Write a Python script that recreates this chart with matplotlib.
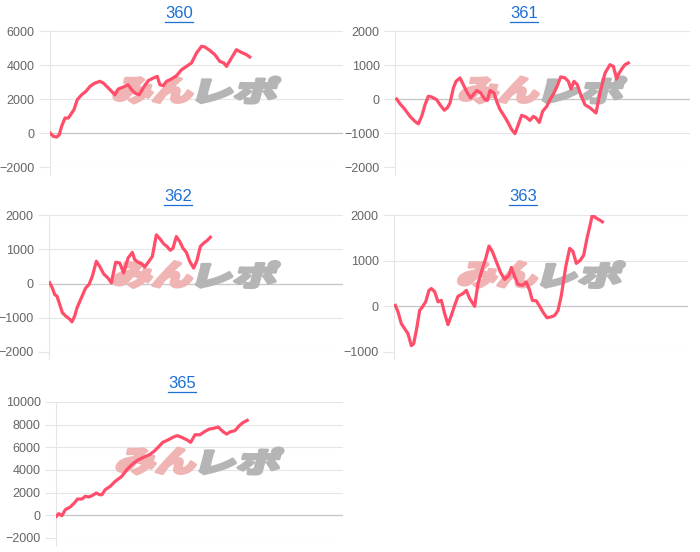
import matplotlib
matplotlib.use("Agg")
import matplotlib.pyplot as plt
from matplotlib.font_manager import FontProperties
from matplotlib.textpath import TextPath
from matplotlib.patches import PathPatch
from matplotlib.transforms import Affine2D, IdentityTransform
from matplotlib.lines import Line2D

plt.rcParams["font.family"] = ["Liberation Sans", "DejaVu Sans"]

LINE_COLOR = "#ff4d6a"
TITLE_COLOR = "#1d6fd6"
GRID_COLOR = "#e6e6e6"

# データ (ゲーム数, 差枚)
titles = ["360", "361", "362", "363", "365"]

x360 = [0, 10, 20, 28, 35, 45, 55, 62, 72, 82, 95, 108, 120, 135, 150, 160, 175, 190, 195, 205,
        220, 235, 243, 255, 268, 280, 295, 310, 322, 330, 340, 350, 365, 380, 395, 410, 425, 440,
        455, 465, 480, 495, 510, 522, 530, 545, 560, 575, 590, 600]
y360 = [0, -200, -240, -100, 400, 880, 880, 1080, 1370, 1960, 2250, 2450, 2740, 2940, 3040, 2940,
        2650, 2350, 2250, 2590, 2700, 2840, 2590, 2350, 2250, 2650, 3080, 3230, 3330, 2840, 2780,
        3040, 3180, 3370, 3720, 3920, 4120, 4700, 5100, 5060, 4860, 4610, 4210, 4120, 3920, 4410,
        4900, 4740, 4610, 4470]

x361 = [5, 15, 30, 45, 60, 70, 80, 90, 100, 110, 125, 135, 148, 157, 165, 175, 183, 195, 205, 217,
        227, 235, 245, 257, 270, 277, 285, 297, 305, 315, 327, 340, 350, 360, 370, 380, 393, 405,
        415, 423, 433, 443, 455, 465, 477, 487, 497, 510, 520, 528, 537, 547, 557, 570, 585, 603,
        615, 630, 645, 655, 665, 670, 680, 690, 700]
y361 = [0, -140, -310, -510, -660, -730, -510, -170, 80, 60, -20, -170, -330, -260, -120, 320, 520,
        620, 420, 180, 30, 130, 250, 180, -20, -40, 250, 180, -70, -310, -490, -710, -900, -1020,
        -750, -480, -530, -630, -510, -560, -690, -360, -220, -20, 180, 390, 650, 620, 520, 290,
        520, 420, 130, -170, -260, -410, 180, 760, 1010, 960, 590, 720, 880, 1010, 1060]

x362 = [2, 10, 17, 24, 32, 40, 50, 62, 69, 77, 84, 97, 110, 120, 130, 142, 152, 164, 177, 187,
        200, 212, 224, 237, 250, 257, 267, 277, 287, 300, 310, 322, 334, 344, 354, 364, 372, 382,
        392, 402, 412, 422, 434, 444, 454, 464, 474, 484]
y362 = [20, -130, -320, -370, -610, -850, -950, -1040, -1120, -950, -710, -420, -130, -30, 210,
        650, 500, 280, 160, 20, 620, 600, 310, 740, 910, 700, 620, 580, 480, 650, 790, 1420, 1290,
        1160, 1080, 970, 1030, 1370, 1230, 1030, 910, 650, 450, 680, 1080, 1180, 1250, 1350]

x363 = [4, 12, 22, 32, 42, 52, 59, 67, 77, 85, 95, 105, 112, 122, 132, 142, 152, 162, 172, 182,
        192, 207, 217, 227, 242, 252, 262, 275, 285, 295, 307, 319, 332, 345, 352, 362, 372, 385,
        397, 407, 415, 427, 437, 449, 459, 472, 482, 492, 502, 515, 527, 537, 547, 559, 569, 579,
        587, 595, 607, 617, 625]
y363 = [20, -120, -380, -490, -600, -860, -820, -530, -90, -15, 100, 350, 390, 320, 100, 130, -160,
        -400, -200, 20, 220, 280, 350, 170, 0, 500, 750, 1050, 1320, 1200, 980, 750, 590, 680, 850,
        650, 480, 460, 530, 350, 130, 120, 0, -150, -250, -230, -200, -90, 240, 860, 1270, 1200,
        940, 1010, 1120, 1490, 1740, 2000, 1930, 1890, 1850]

x365 = [1, 8, 18, 28, 43, 55, 65, 78, 88, 98, 108, 121, 131, 138, 148, 163, 178, 198, 213, 228,
        243, 263, 281, 295, 308, 321, 338, 353, 365, 378, 393, 405, 418, 433, 448, 461, 473, 488,
        501, 513, 525, 538, 551, 563, 575]
y365 = [-90, 150, -30, 500, 740, 1090, 1440, 1440, 1680, 1620, 1730, 1970, 1820, 1820, 2260, 2560,
        3000, 3440, 4030, 4470, 4820, 5120, 5350, 5650, 6030, 6440, 6670, 6910, 7030, 6880, 6670,
        6440, 7110, 7110, 7410, 7610, 7670, 7790, 7410, 7170, 7380, 7470, 7910, 8200, 8380]

xs = [x360, x361, x362, x363, x365]
ys = [y360, y361, y362, y363, y365]
xmax = [880, 885, 882, 882, 863]
ylims = [(-2000, 6000), (-2000, 2000), (-2000, 2000), (-1000, 2000), (-2000, 10000)]
ysteps = [2000, 1000, 1000, 1000, 2000]

W, H = 700, 552
# 各パネルの位置 (px): left, right, top, bottom, タイトル中心x, タイトルy
boxes = [
    (50, 343, 31, 167, 179, 13),
    (395, 690, 31, 167, 524, 13),
    (49, 343, 215, 352, 178, 197),
    (394, 688, 215, 352, 523, 197),
    (56, 343, 402, 538, 182, 383),
]

fig = plt.figure(figsize=(W / 100, H / 100), dpi=100)
fig.patch.set_facecolor("white")

wm_font = FontProperties(family="Noto Sans CJK JP", weight="black")


def add_watermark(ax):
    # みんレポ のロゴ風透かし
    bb = ax.get_window_extent()
    cx = (bb.x0 + bb.x1) / 2
    cy = (bb.y0 + bb.y1) / 2 + 9
    for text, color, dx in (("みん", "#f0b4b4", -42), ("レポ", "#b5b5b5", 42)):
        path = TextPath((0, 0), text, size=1, prop=wm_font)
        ext = path.get_extents()
        tr = (Affine2D()
              .translate(-(ext.x0 + ext.x1) / 2, -(ext.y0 + ext.y1) / 2)
              .scale(78 / ext.width, 26 / ext.height)
              .skew_deg(15, 0)
              .translate(cx + dx, cy))
        ax.add_patch(PathPatch(tr.transform_path(path), transform=IdentityTransform(),
                               facecolor=color, edgecolor=color, lw=2.2,
                               joinstyle="round", zorder=1.5))


title_texts = []
for i, (l, r, t, b, tx, ty) in enumerate(boxes):
    ax = fig.add_axes([l / W, 1 - b / H, (r - l) / W, (b - t) / H])
    lo, hi = ylims[i]
    ax.set_xlim(0, xmax[i])
    ax.set_ylim(lo, hi)
    ax.set_yticks(range(lo, hi + 1, ysteps[i]))
    ax.set_xticks([0])
    ax.set_xticklabels([])
    ax.tick_params(axis="y", length=8, width=0.8, color=GRID_COLOR, labelcolor="#666666",
                   labelsize=9, pad=3)
    ax.tick_params(axis="x", length=6, width=0.8, color=GRID_COLOR)
    ax.set_axisbelow(True)
    ax.grid(axis="y", color=GRID_COLOR, lw=0.8)
    ax.axhline(0, color="#c6c6c6", lw=0.9, zorder=0.6)
    for s in ("top", "right", "bottom"):
        ax.spines[s].set_visible(False)
    ax.spines["left"].set_color(GRID_COLOR)
    ax.spines["left"].set_linewidth(0.8)

    add_watermark(ax)
    ax.plot(xs[i], ys[i], color=LINE_COLOR, lw=2.3, solid_joinstyle="round", zorder=3)

    txt = fig.text(tx / W, 1 - ty / H, titles[i], color=TITLE_COLOR, fontsize=12,
                   ha="center", va="center")
    title_texts.append(txt)

# タイトルの下線
fig.canvas.draw()
inv = fig.transFigure.inverted()
for txt in title_texts:
    bb = txt.get_window_extent()
    (x0, y0), (x1, _) = inv.transform([(bb.x0, bb.y0 - 1), (bb.x1, bb.y0)])
    fig.add_artist(Line2D([x0, x1], [y0, y0], color=TITLE_COLOR, lw=0.9,
                          transform=fig.transFigure))

fig.savefig("out.png", dpi=100)
